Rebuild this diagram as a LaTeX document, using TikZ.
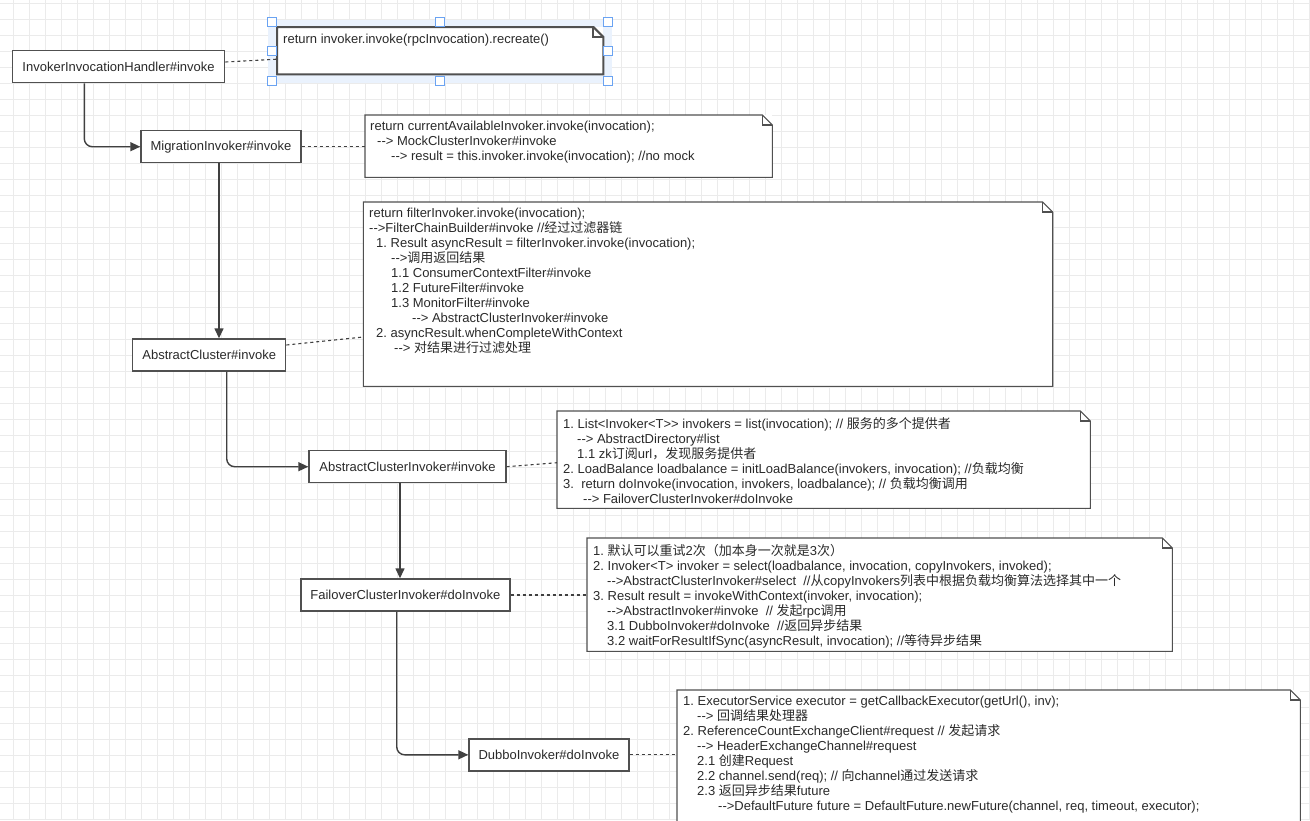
\documentclass[tikz,border=0pt]{standalone}
\usepackage{fontspec}
\newfontfamily\libsans{Liberation Sans}
\newfontfamily\cjk{Noto Sans CJK SC}
\usetikzlibrary{positioning,arrows.meta}

\definecolor{gridgray}{HTML}{EBEBEB}
\definecolor{boxgray}{HTML}{505050}
\definecolor{flowgray}{HTML}{404040}
\definecolor{textgray}{HTML}{2A2A2A}
\definecolor{selblue}{HTML}{6AA3F2}
\definecolor{selfill}{HTML}{EAF2FD}

\newcommand\zh[1]{{\cjk #1}}
\newcommand\arw{-\kern0pt-\kern0pt>}

\begin{document}
\begin{tikzpicture}[x=1pt, y=-1pt,
    font=\libsans\fontsize{13}{15}\selectfont\frenchspacing,
    call/.style={rectangle, draw=boxgray, line width=1.4pt, fill=white, minimum height=32pt, inner sep=0pt, text=textgray},
    note/.style={rectangle, fill=white, anchor=north west, inner sep=0pt},
    notetext/.style={anchor=north west, align=left, inner sep=0pt, text=textgray, execute at begin node=\strut},
    flow/.style={draw=flowgray, line width=1.4pt, rounded corners=8pt, -{Triangle[length=10pt,width=9pt]}},
    link/.style={draw=flowgray, line width=1.1pt, dash pattern=on 3pt off 3pt},
    grip/.style={draw=selblue, fill=white, line width=1pt}
]
\useasboundingbox (0,0) rectangle (1310,820);
\clip (0,0) rectangle (1310,820);
\fill[white] (0,0) rectangle (1310,820);

% grid
\foreach \gx in {13,29,...,1309} \draw[gridgray, line width=0.8pt] (\gx,0) -- (\gx,820);
\foreach \gy in {3,19,...,819} \draw[gridgray, line width=0.8pt] (0,\gy) -- (1310,\gy);

% call chain
\node[call, minimum width=212] (hdl) at (118.6,66.7) {InvokerInvocationHandler\#invoke};
\node[call, minimum width=160] (mig) at (221,146.7) {MigrationInvoker\#invoke};
\node[call, minimum width=153] (acl) at (209.2,355) {AbstractCluster\#invoke};
\node[call, minimum width=197] (aci) at (407.5,466.7) {AbstractClusterInvoker\#invoke};
\node[call, minimum width=209] (foi) at (405.4,595) {FailoverClusterInvoker\#doInvoke};
\node[call, minimum width=160] (dbi) at (549,754.8) {DubboInvoker\#doInvoke};

% selected note
\fill[selfill] (268,20) rectangle (612,83);

% notes
\node[note, minimum width=326, minimum height=47] (nA) at (277,27) {};
\node[note, minimum width=407, minimum height=62] (nB) at (365,115) {};
\node[note, minimum width=689, minimum height=184] (nC) at (363.3,202) {};
\node[note, minimum width=533, minimum height=97] (nD) at (557,411) {};
\node[note, minimum width=585, minimum height=113] (nE) at (587,538) {};
\node[note, minimum width=623, minimum height=140] (nF) at (677,690) {};

\foreach \n/\lw in {nA/2pt,nB/1.1pt,nC/1.1pt,nD/1.1pt,nE/1.1pt,nF/1.1pt}{
  \draw[boxgray, line width=\lw, line join=miter] (\n.north west) -- ([xshift=-10]\n.north east)
    -- ([yshift=-10]\n.north east) -- (\n.south east) -- (\n.south west) -- cycle;
  \draw[boxgray, line width=\lw] ([xshift=-10]\n.north east) |- ([yshift=-10]\n.north east);
}

\foreach \hx in {272,440,608}
  \foreach \hy in {22,51,81}{
    \ifnum\hx=440 \ifnum\hy=51 \else \filldraw[grip] (\hx-4.5,\hy-4.5) rectangle ++(9,9); \fi
    \else \filldraw[grip] (\hx-4.5,\hy-4.5) rectangle ++(9,9); \fi
  }

\node[notetext] (tA) at ([xshift=6, yshift=-6]nA.north west)
  {return invoker.invoke(rpcInvocation).recreate()};

\node[notetext] (tB) at ([xshift=5, yshift=-6]nB.north west)
  {return currentAvailableInvoker.invoke(invocation);\\
   \hspace*{7pt}\arw\ MockClusterInvoker\#invoke\\
   \hspace*{21pt}\arw\ result = this.invoker.invoke(invocation); //no mock};

\node[notetext] (tC) at ([xshift=5.7, yshift=-6]nC.north west)
  {return filterInvoker.invoke(invocation);\\
   \arw FilterChainBuilder\#invoke //\zh{经过过滤器链}\\
   \hspace*{7pt}1. Result asyncResult = filterInvoker.invoke(invocation);\\
   \hspace*{22pt}\arw\zh{调用返回结果}\\
   \hspace*{22pt}1.1 ConsumerContextFilter\#invoke\\
   \hspace*{22pt}1.2 FutureFilter\#invoke\\
   \hspace*{22pt}1.3 MonitorFilter\#invoke\\
   \hspace*{43pt}\arw\ AbstractClusterInvoker\#invoke\\
   \hspace*{7pt}2. asyncResult.whenCompleteWithContext\\
   \hspace*{25pt}\arw\ \zh{对结果进行过滤处理}};

\node[notetext] (tD) at ([xshift=6, yshift=-6]nD.north west)
  {1. List<Invoker<T>\kern0pt> invokers = list(invocation); // \zh{服务的多个提供者}\\
   \hspace*{14pt}\arw\ AbstractDirectory\#list\\
   \hspace*{14pt}1.1 zk\zh{订阅}url\zh{，发现服务提供者}\\
   2. LoadBalance loadbalance = initLoadBalance(invokers, invocation); //\zh{负载均衡}\\
   3.\ \ return doInvoke(invocation, invokers, loadbalance); // \zh{负载均衡调用}\\
   \hspace*{20pt}\arw\ FailoverClusterInvoker\#doInvoke};

\node[notetext] (tE) at ([xshift=6, yshift=-6]nE.north west)
  {1. \zh{默认可以重试}2\zh{次（加本身一次就是}3\zh{次）}\\
   2. Invoker<T> invoker = select(loadbalance, invocation, copyInvokers, invoked);\\
   \hspace*{14pt}\arw AbstractClusterInvoker\#select\ \ //\zh{从}copyInvokers\zh{列表中根据负载均衡算法选择其中一个}\\
   3. Result result = invokeWithContext(invoker, invocation);\\
   \hspace*{14pt}\arw AbstractInvoker\#invoke\ \ // \zh{发起}rpc\zh{调用}\\
   \hspace*{14pt}3.1 DubboInvoker\#doInvoke\ \ //\zh{返回异步结果}\\
   \hspace*{14pt}3.2 waitForResultIfSync(asyncResult, invocation); //\zh{等待异步结果}};

\node[notetext] (tF) at ([xshift=6, yshift=-6]nF.north west)
  {1. ExecutorService executor = getCallbackExecutor(getUrl(), inv);\\
   \hspace*{14pt}\arw\ \zh{回调结果处理器}\\
   2. ReferenceCountExchangeClient\#request // \zh{发起请求}\\
   \hspace*{14pt}\arw\ HeaderExchangeChannel\#request\\
   \hspace*{14pt}2.1 \zh{创建}Request\\
   \hspace*{14pt}2.2 channel.send(req); // \zh{向}channel\zh{通过发送请求}\\
   \hspace*{14pt}2.3 \zh{返回异步结果}future\\
   \hspace*{35pt}\arw DefaultFuture future = DefaultFuture.newFuture(channel, req, timeout, executor);};

% calls
\draw[flow] ([xshift=72.4]hdl.south west) |- (mig.west);
\draw[flow] ([xshift=-2]mig.south) -- ([xshift=-2]mig.south |- acl.north);
\draw[flow] ([xshift=17.5]acl.south) |- (aci.west);
\draw[flow] ([xshift=-7.5]aci.south) -- ([xshift=-7.5]aci.south |- foi.north);
\draw[flow] ([xshift=-8.7]foi.south) |- (dbi.west);

% note links
\draw[link] ([yshift=4.7]hdl.east) -- ([yshift=-8.5]nA.west);
\draw[link] (mig.east) -- (mig.east -| nB.west);
\draw[link] ([yshift=10]acl.east) -- ([yshift=-42.8]nC.west);
\draw[link] (aci.east) -- ([yshift=-3]nD.west);
\draw[link] (foi.east) -- (foi.east -| nE.west);
\draw[link] (dbi.east) -- (dbi.east -| nF.west);
\end{tikzpicture}
\end{document}
